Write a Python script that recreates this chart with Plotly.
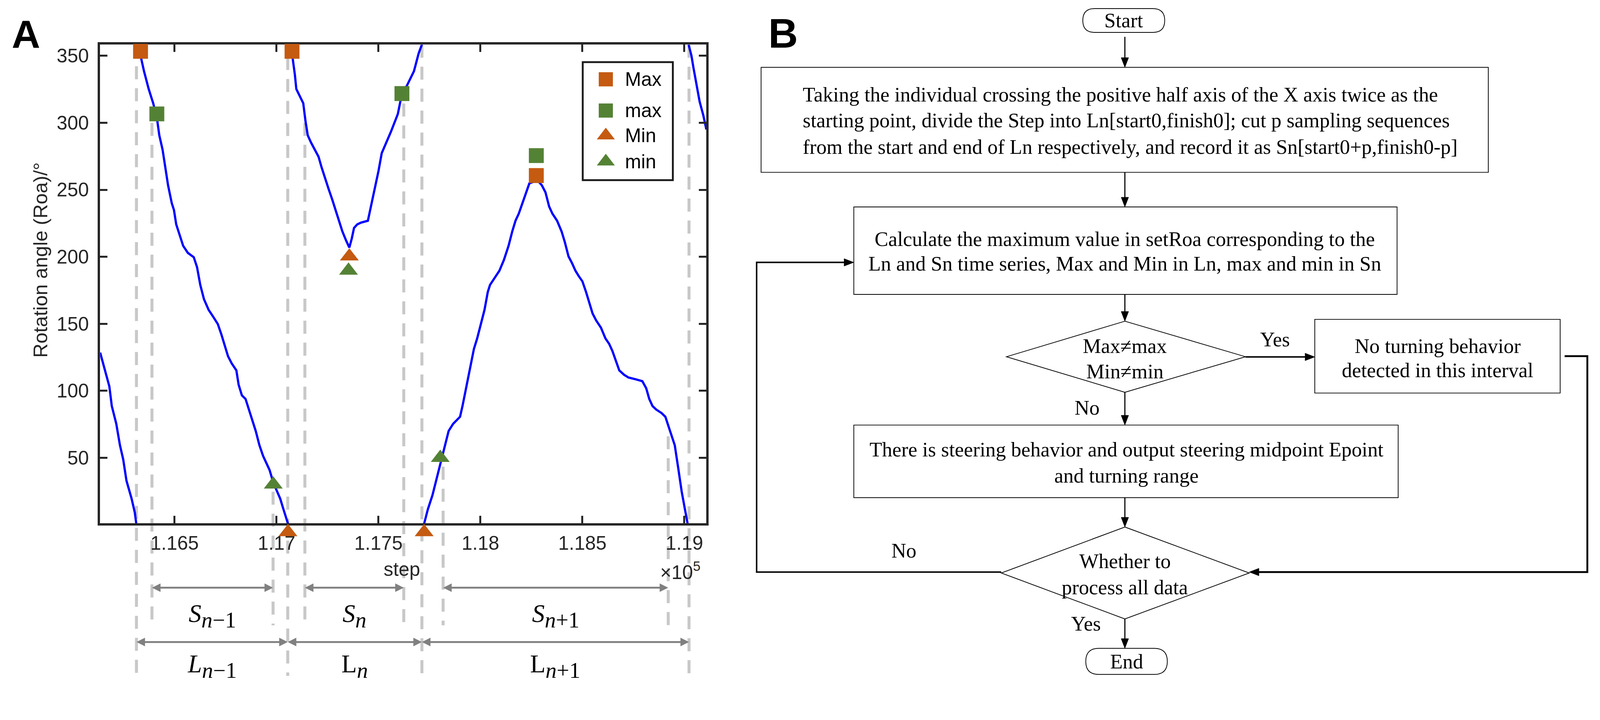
import plotly.graph_objects as go

# ---------------- panel A data: rotation angle vs step (wraps at 0/360, one list per pass)
seg1_step = [116135, 116158, 116180, 116192, 116214, 116232, 116248, 116264, 116289, 116305, 116312]
seg1_roa = [128.5, 115.2, 103.3, 88.7, 75.4, 59.4, 48.8, 32.9, 19.6, 9.0, 1.0]

seg2_step = [116321, 116334, 116350, 116373, 116395, 116413, 116425, 116441, 116454, 116468,
             116486, 116497, 116508, 116527, 116542, 116565, 116594, 116610, 116626, 116644,
             116667, 116690, 116712, 116730, 116746, 116762, 116780, 116803, 116814, 116830,
             116848, 116864, 116882, 116898, 116916, 116934, 116950, 116966, 116984, 117000,
             117018, 117034, 117056]
seg2_roa = [358.4, 349.1, 338.5, 325.2, 314.6, 303.9, 290.7, 280.0, 266.7, 253.4,
            240.1, 234.8, 224.2, 214.9, 208.2, 202.9, 199.7, 192.3, 179.0, 168.4,
            160.4, 155.1, 149.8, 141.8, 133.8, 125.8, 120.5, 115.2, 104.6, 96.6,
            93.9, 86.0, 78.0, 70.0, 59.4, 51.4, 46.1, 40.8, 31.5, 26.0,
            19.5, 11.5, 0.9]

seg3_step = [117070, 117079, 117090, 117097, 117115, 117131, 117142, 117153, 117169, 117187,
             117206, 117221, 117237, 117255, 117273, 117289, 117305, 117323, 117341, 117357,
             117369, 117380, 117396, 117414, 117448, 117459, 117470, 117482, 117500, 117516,
             117527, 117561, 117595, 117615, 117640, 117674, 117697, 117713]
seg3_roa = [358.4, 349.1, 335.8, 325.2, 319.9, 314.6, 301.3, 290.7, 285.3, 280.0,
            274.7, 266.7, 258.7, 250.8, 242.8, 234.8, 226.9, 218.9, 212.2, 206.9,
            213.6, 221.5, 224.2, 225.5, 226.9, 234.8, 242.8, 250.8, 264.0, 277.4,
            281.3, 293.3, 306.6, 321.8, 327.9, 338.5, 351.8, 358.4]

seg4_step = [117724, 117742, 117765, 117787, 117810, 117826, 117844, 117866, 117900, 117912,
             117934, 117952, 117968, 117984, 118002, 118020, 118036, 118047, 118070, 118093,
             118115, 118138, 118156, 118172, 118188, 118206, 118224, 118240, 118263, 118285,
             118301, 118319, 118337, 118353, 118376, 118398, 118414, 118432, 118450, 118466,
             118482, 118500, 118518, 118534, 118550, 118568, 118591, 118613, 118631, 118647,
             118663, 118681, 118704, 118726, 118760, 118794, 118813, 118828, 118844, 118862,
             118889, 118907, 118930, 118953, 118969, 118987, 119003, 119016]
seg4_roa = [0.9, 11.5, 22.2, 35.5, 48.7, 59.4, 70.0, 75.3, 80.6, 88.6,
            104.6, 117.9, 131.2, 139.1, 149.8, 160.4, 173.7, 179.0, 184.3, 189.6,
            197.6, 208.2, 218.9, 226.9, 232.2, 240.2, 248.1, 254.8, 256.1, 256.1,
            253.4, 248.1, 237.5, 232.2, 226.9, 218.9, 210.9, 200.3, 195.0, 189.6,
            185.6, 181.7, 173.7, 165.7, 157.7, 152.4, 147.1, 139.1, 135.1, 129.8,
            123.2, 115.2, 112.0, 109.9, 108.6, 107.2, 101.9, 93.9, 88.6, 86.0,
            83.3, 80.6, 70.0, 59.4, 43.4, 24.8, 11.5, 0.9]

seg5_step = [119021, 119035, 119044, 119060, 119075, 119093, 119108]
seg5_roa = [358.3, 350.0, 341.7, 327.8, 315.8, 305.6, 295.0]

# extreme values found in each window
Max_step = [116333, 117076, 118274]
Max_roa = [353.3, 353.3, 260.6]
max_step = [116413, 117615, 118274]
max_roa = [306.6, 321.8, 275.5]
Min_step = [117056, 117357, 117724]
Min_roa = [-5.5, 200.3, -5.5]
min_step = [116984, 117353, 117803]
min_roa = [30.1, 189.7, 50.0]

# window boundaries (dashed lines)
L_bounds = [116313, 117055, 117713, 119023]
S_bounds = [116389, 116983, 117139, 117624, 117817, 118921]
window_sub = ['\u22121', '', '+1']

x_range = [116135, 119108]
y_range = [1.1, 358.3]
x_tickvals = [116500, 117000, 117500, 118000, 118500, 119000]
x_ticktext = ['1.165', '1.17', '1.175', '1.18', '1.185', '1.19']
y_tickvals = [50, 100, 150, 200, 250, 300, 350]

ORANGE = '#C55A11'
GREEN = '#548235'
AXC = '#262626'
SANS = 'Liberation Sans, Arial, sans-serif'
SERIF = 'Liberation Serif, Times New Roman, serif'

# layout is measured in reference pixels (4297 x 1844); the page shows it a bit
# smaller with an 8px body margin, so everything goes through fx/fy/k
S = 4096 / 4297
OFF = 8
FW, FH = 4080, 1740

AX_L, AX_R, AX_T, AX_B = 269, 1897, 120, 1406
step_per_px = (x_range[1] - x_range[0]) / (AX_R - AX_L)
px_per_roa = (AX_B - AX_T) / (y_range[1] - y_range[0])
MK_B = 1470  # markers may hang below the frame: same scale, longer hidden axis


def fx(p):
    return (p * S - OFF) / FW


def fy(p):
    return 1 - (p * S - OFF) / FH


def k(v):
    return v * S


fig = go.Figure()

# the curve
steps, roa = [], []
for s, r in [(seg1_step, seg1_roa), (seg2_step, seg2_roa), (seg3_step, seg3_roa),
             (seg4_step, seg4_roa), (seg5_step, seg5_roa)]:
    steps += s + [None]
    roa += r + [None]
fig.add_trace(go.Scatter(x=steps, y=roa, mode='lines', line=dict(color='#0000FF', width=k(6)),
                         showlegend=False, hoverinfo='skip'))

marker_sets = [
    ('Max', Max_step, Max_roa, 'square', ORANGE, 40),
    ('max', max_step, max_roa, 'square', GREEN, 40),
    ('Min', Min_step, Min_roa, 'triangle-up', ORANGE, 44),
    ('min', min_step, min_roa, 'triangle-up', GREEN, 44),
]
for name, xs, ys, sym, col, sz in marker_sets:
    fig.add_trace(go.Scatter(x=xs, y=ys, mode='markers', name=name, cliponaxis=False,
                             xaxis='x', yaxis='y3',
                             marker=dict(symbol=sym, color=col, size=k(sz), line=dict(width=0)),
                             showlegend=False))

shapes = []
annotations = []

# dashed guide lines
cut_top_px = {116313: 178, 116389: 330, 116983: 1321, 117055: 153, 117139: 330,
              117624: 278, 117713: 120, 117817: 1254, 118921: 1172, 119023: 120}
for xv in sorted(L_bounds + S_bounds):
    bottom = 1816 if xv in L_bounds else 1680
    shapes.append(dict(type='line', xref='x', yref='paper', x0=xv, x1=xv,
                       y0=fy(cut_top_px[xv]), y1=fy(bottom), layer='below',
                       line=dict(color='#C8C8C8', width=k(8),
                                 dash=f'{k(35):.1f}px,{k(24):.1f}px')))


def double_arrow(x0, x1, ypx):
    y = fy(ypx)
    hl = 23 * step_per_px
    hw = k(11.5) / FH
    shapes.append(dict(type='line', xref='x', yref='paper', x0=x0 + hl * 0.5, x1=x1 - hl * 0.5,
                       y0=y, y1=y, line=dict(color='#808080', width=k(5))))
    for tip, back in [(x0, x0 + hl), (x1, x1 - hl)]:
        shapes.append(dict(type='path', xref='x', yref='paper',
                           path=f'M{tip},{y} L{back},{y + hw} L{back},{y - hw} Z',
                           fillcolor='#808080', line=dict(width=0)))


def note(text, x, y, size, family=SANS, color=AXC, xanchor='center', **kw):
    annotations.append(dict(text=text, x=fx(x), y=fy(y), xref='paper', yref='paper',
                            showarrow=False, xanchor=xanchor, yanchor='middle',
                            font=dict(family=family, size=k(size), color=color), **kw))


def window_label(letter, sub, x, ypx):
    text = (f'{letter}<sub><span style="font-size:{k(60):.0f}px"><i>n</i>{sub}</span></sub>')
    annotations.append(dict(text=text, x=x, y=fy(ypx), xref='x', yref='paper',
                            showarrow=False, xanchor='center', yanchor='middle',
                            font=dict(family=SERIF, size=k(68), color='black')))


for i in range(3):
    a, b = S_bounds[2 * i], S_bounds[2 * i + 1]
    double_arrow(a, b, 1579)
    window_label('<i>S</i>', window_sub[i], (a + b) / 2, 1654)
    a, b = L_bounds[i], L_bounds[i + 1]
    double_arrow(a, b, 1725)
    window_label('<i>L</i>' if i == 0 else 'L', window_sub[i], (a + b) / 2, 1790)

# axis titles, exponent and panel letters
note('step', 1080, 1530, 52)
note('\u00d710<sup>5</sup>', 1771, 1534, 52, xanchor='left')
note('Rotation angle (Roa)/\u00b0', 108, 699, 53, textangle=-90)
note('<b>A</b>', 70, 92, 106, color='black')
note('<b>B</b>', 2103, 90, 110, color='black')

# legend box drawn by hand so the symbols keep their size
LG_L, LG_R, LG_T, LG_B = 1565, 1807, 167, 484
shapes.append(dict(type='rect', xref='paper', yref='paper', x0=fx(LG_L), x1=fx(LG_R),
                   y0=fy(LG_B), y1=fy(LG_T), layer='below', fillcolor='white',
                   line=dict(color='#1a1a1a', width=k(5))))
legend_row_px = [213, 297, 364, 434]
for (name, xs, ys, sym, col, sz), rp in zip(marker_sets, legend_row_px):
    yy = (LG_B - rp) / (LG_B - LG_T)
    fig.add_trace(go.Scatter(x=[(1627 - LG_L) / (LG_R - LG_L)], y=[yy], xaxis='x2', yaxis='y2',
                             mode='markers', showlegend=False, hoverinfo='skip',
                             marker=dict(symbol=sym, color=col, size=k(sz - 2), line=dict(width=0))))
    annotations.append(dict(text=name, x=(1676 - LG_L) / (LG_R - LG_L), y=yy, xref='x2', yref='y2',
                            xanchor='left', yanchor='middle', showarrow=False,
                            font=dict(family=SANS, size=k(52), color='black')))


# ---------------- panel B: flowchart (reference pixel layout)
def poly(pts, width=2, closed=False, fill=None):
    d = 'M' + ' L'.join(f'{fx(x)},{fy(y)}' for x, y in pts)
    if closed:
        d += ' Z'
    shapes.append(dict(type='path', xref='paper', yref='paper', path=d,
                       fillcolor=fill if fill else 'rgba(0,0,0,0)',
                       line=dict(color='black', width=k(width))))


def box(x0, y0, x1, y1):
    poly([(x0, y0), (x1, y0), (x1, y1), (x0, y1)], closed=True)


def diamond(cx, top, right, bottom, left):
    cy = (top + bottom) / 2
    poly([(cx, top), (right, cy), (cx, bottom), (left, cy)], closed=True)


def label(text, x, y, anchor='center', size=55):
    note(text, x, y, size, family=SERIF, color='black', xanchor=anchor)


def terminal(x0, y0, x1, y1, text):
    r = (y1 - y0) / 2
    ym = (y0 + y1) / 2
    d = (f'M{fx(x0 + r)},{fy(y0)} L{fx(x1 - r)},{fy(y0)} Q{fx(x1)},{fy(y0)} {fx(x1)},{fy(ym)} '
         f'Q{fx(x1)},{fy(y1)} {fx(x1 - r)},{fy(y1)} L{fx(x0 + r)},{fy(y1)} '
         f'Q{fx(x0)},{fy(y1)} {fx(x0)},{fy(ym)} Q{fx(x0)},{fy(y0)} {fx(x0 + r)},{fy(y0)} Z')
    shapes.append(dict(type='path', xref='paper', yref='paper', path=d,
                       line=dict(color='black', width=k(2))))
    label(text, (x0 + x1) / 2, ym)


def arrow(pts, width=3, hl=26, hw=10):
    (xa, ya), (xb, yb) = pts[-2], pts[-1]
    n = ((xb - xa) ** 2 + (yb - ya) ** 2) ** 0.5
    ux, uy = (xb - xa) / n, (yb - ya) / n
    shaft = pts[:-1] + [(xb - ux * hl * 0.6, yb - uy * hl * 0.6)]
    poly(shaft, width=width)
    bx, by = xb - ux * hl, yb - uy * hl
    poly([(xb, yb), (bx - uy * hw, by + ux * hw), (bx + uy * hw, by - ux * hw)],
         width=1, closed=True, fill='black')


box1_lines = ['Taking the individual crossing the positive half axis of the X axis twice as the',
              'starting point, divide the Step into Ln[start0,finish0]; cut p sampling sequences',
              'from the start and end of Ln respectively, and record it as Sn[start0+p,finish0-p]']
box2_lines = ['Calculate the maximum value in setRoa corresponding to the',
              'Ln and Sn time series, Max and Min in Ln, max and min in Sn']
box3_lines = ['No turning behavior', 'detected in this interval']
box4_lines = ['There is steering behavior and output steering midpoint Epoint', 'and turning range']
dia1_lines = ['Max\u2260max', 'Min\u2260min']
dia2_lines = ['Whether to', 'process all data']

terminal(2908, 23, 3128, 87, 'Start')
box(2044, 181, 3997, 463)
for t, yy in zip(box1_lines, [254, 323, 394]):
    label(t, 2154, yy, anchor='left')
box(2293, 556, 3752, 791)
for t, yy in zip(box2_lines, [642, 708]):
    label(t, 3021, yy)
diamond(3021, 863, 3345, 1054, 2703)
for t, yy in zip(dia1_lines, [929, 998]):
    label(t, 3021, yy)
box(3531, 858, 4190, 1056)
for t, yy in zip(box3_lines, [929, 995]):
    label(t, 3861, yy)
box(2293, 1142, 3755, 1337)
for t, yy in zip(box4_lines, [1208, 1278]):
    label(t, 3025, yy)
diamond(3021, 1416, 3355, 1663, 2689)
for t, yy in zip(dia2_lines, [1508, 1578]):
    label(t, 3021, yy)
terminal(2916, 1742, 3135, 1812, 'End')

arrow([(3021, 99), (3021, 181)])
arrow([(3021, 463), (3021, 556)])
arrow([(3021, 791), (3021, 863)])
arrow([(3345, 959), (3531, 959)], width=4)
arrow([(3021, 1054), (3021, 1142)])
arrow([(3021, 1337), (3021, 1416)])
arrow([(3021, 1663), (3021, 1742)])
arrow([(4202, 957), (4263, 957), (4263, 1537), (3355, 1537)], width=5)
arrow([(2689, 1537), (2032, 1537), (2032, 705), (2293, 705)], width=4)

label('Yes', 3424, 912)
label('No', 2920, 1095)
label('No', 2428, 1479)
label('Yes', 2916, 1675)

axis_common = dict(showgrid=False, zeroline=False, showline=True, linewidth=k(6), linecolor=AXC,
                   mirror='ticks', ticks='inside', ticklen=k(20), tickwidth=k(5), tickcolor=AXC,
                   tickfont=dict(family=SANS, size=k(52), color=AXC))

fig.update_layout(
    width=FW, height=FH, autosize=False,
    margin=dict(l=0, r=0, t=0, b=0, autoexpand=False),
    paper_bgcolor='white', plot_bgcolor='rgba(0,0,0,0)',
    showlegend=False,
    xaxis=dict(domain=[fx(AX_L), fx(AX_R)], range=x_range, tickmode='array',
               tickvals=x_tickvals, ticktext=x_ticktext, ticklabelstandoff=2, **axis_common),
    yaxis=dict(domain=[fy(AX_B), fy(AX_T)], range=y_range, tickmode='array',
               tickvals=y_tickvals, ticklabelstandoff=13, **axis_common),
    yaxis3=dict(domain=[fy(MK_B), fy(AX_T)], anchor='x', visible=False,
                range=[y_range[0] - (MK_B - AX_B) / px_per_roa, y_range[1]]),
    xaxis2=dict(domain=[fx(LG_L), fx(LG_R)], range=[0, 1], visible=False, anchor='y2'),
    yaxis2=dict(domain=[fy(LG_B), fy(LG_T)], range=[0, 1], visible=False, anchor='x2'),
    shapes=shapes,
    annotations=annotations,
)

fig.write_html('out.html')
